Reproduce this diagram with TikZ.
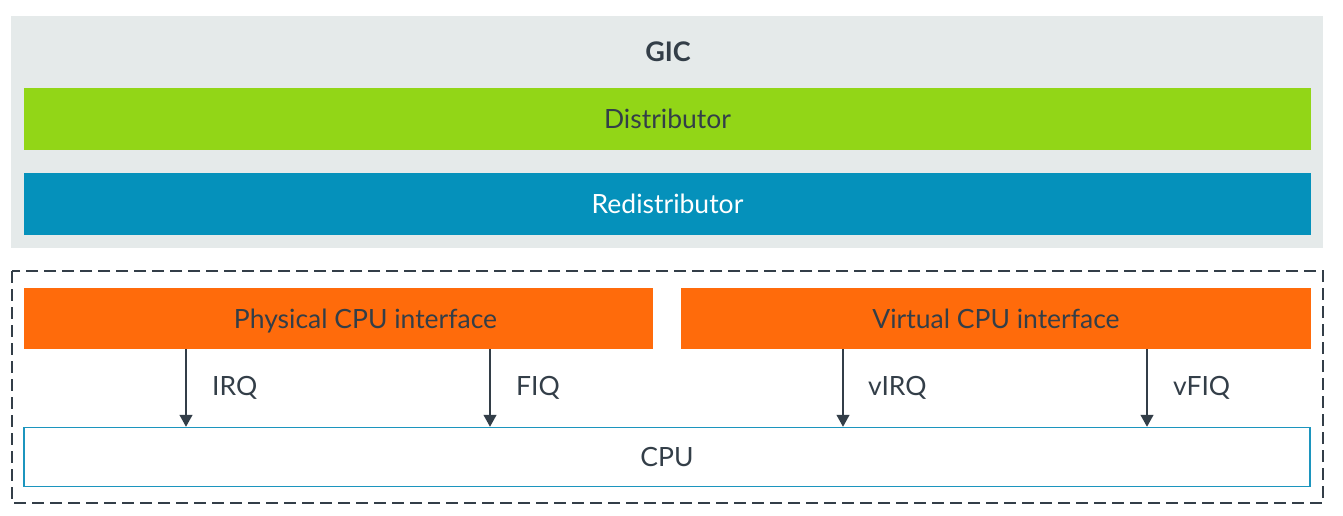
\documentclass[tikz,border=0pt]{standalone}
\usepackage{fontspec}
\setmainfont{Lato}
\usetikzlibrary{arrows.meta}
\definecolor{gicgray}{HTML}{E5EAEA}
\definecolor{distgreen}{HTML}{92D617}
\definecolor{redblue}{HTML}{0591BB}
\definecolor{ifaceorange}{HTML}{FF6B0B}
\definecolor{textdark}{HTML}{333E48}
\definecolor{cpublue}{HTML}{1C95BE}
\tikzset{
  lbl/.style={font=\fontsize{26.5}{30}\selectfont, text=textdark},
  bar/.style={draw=none, minimum height=62pt, inner sep=0pt, lbl},
  sig/.style={draw=textdark, line width=1.3pt, -{Triangle[width=13pt,length=12pt]}},
  siglabel/.style={lbl, anchor=west, inner sep=0pt},
}
\begin{document}
\begin{tikzpicture}[x=1pt,y=-1pt]
\useasboundingbox (0,0) rectangle (1343,516);
\fill[gicgray] (11,16) rectangle (1323,248);
\node[font=\bfseries\fontsize{27}{30}\selectfont, text=textdark] (gic) at (668,52) {GIC};
\node[bar, fill=distgreen, minimum width=1287pt] (dist) at (667.5,119) {Distributor};
\node[bar, fill=redblue, text=white, minimum width=1287pt] (redist) at (667.5,203.5) {Redistributor};
\draw[textdark, line width=2pt, dash pattern=on 12pt off 6pt] (12,271) rectangle (1323,503);
\node[bar, fill=ifaceorange, minimum width=629pt, minimum height=61pt] (phys) at (338.5,318.5) {};
\node[bar, fill=ifaceorange, minimum width=630pt, minimum height=61pt] (virt) at (996,318.5) {Virtual CPU interface};
\node[lbl, anchor=base, inner sep=0pt] (physlabel) at ([xshift=27pt]phys.center |- virt.base) {Physical CPU interface};
\node[draw=cpublue, line width=1.5pt, minimum width=1286pt, minimum height=59pt, inner sep=0pt, lbl] (cpu) at (667,457) {CPU};
\draw[sig] (phys.south -| 186,0) -- (cpu.north -| 186,0);
\draw[sig] (phys.south -| 490,0) -- (cpu.north -| 490,0);
\draw[sig] (virt.south -| 843,0) -- (cpu.north -| 843,0);
\draw[sig] (virt.south -| 1147,0) -- (cpu.north -| 1147,0);
\node[siglabel] (irq) at (212,388) {IRQ};
\node[siglabel] (fiq) at (516,388) {FIQ};
\node[siglabel] (virq) at (868,388) {vIRQ};
\node[siglabel] (vfiq) at (1173,388) {vFIQ};
\end{tikzpicture}
\end{document}
